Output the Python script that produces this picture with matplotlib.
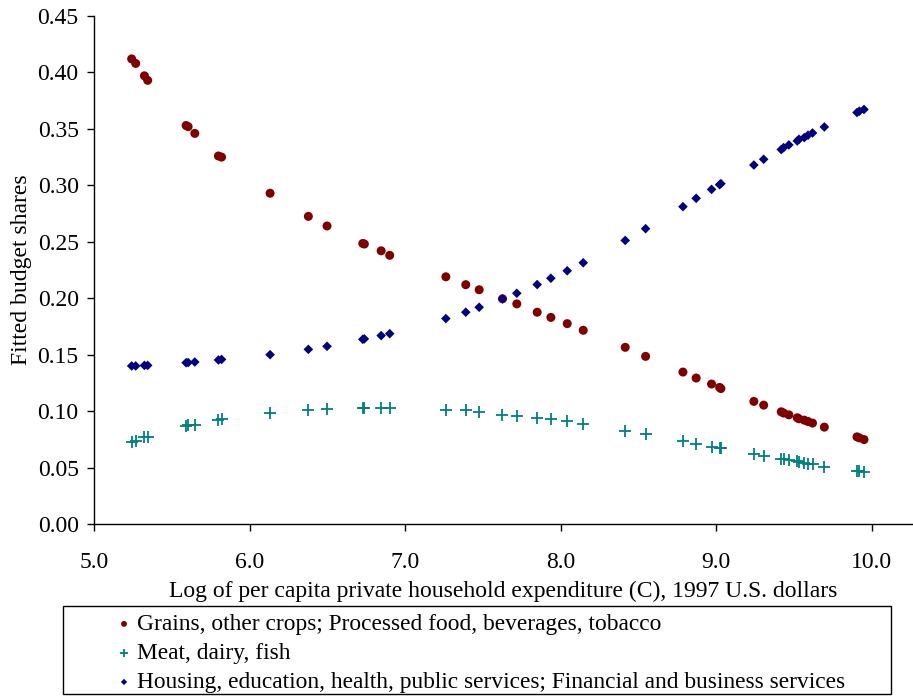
import matplotlib
matplotlib.use("Agg")
import matplotlib.pyplot as plt
from matplotlib.patches import Rectangle

plt.rcParams['font.family'] = ['Liberation Serif', 'DejaVu Serif']

log_expenditure = [5.242, 5.268, 5.324, 5.345, 5.592, 5.605, 5.648, 5.800, 5.820,
                   6.132, 6.378, 6.498, 6.728, 6.738, 6.846, 6.901, 7.262, 7.390,
                   7.476, 7.626, 7.718, 7.849, 7.937, 8.042, 8.145, 8.415, 8.546,
                   8.786, 8.871, 8.970, 9.022, 9.030, 9.242, 9.305, 9.418, 9.433,
                   9.467, 9.521, 9.532, 9.566, 9.590, 9.619, 9.695, 9.905, 9.920,
                   9.950]

grains_food = [0.412, 0.408, 0.397, 0.393, 0.353, 0.352, 0.346, 0.326, 0.325,
               0.293, 0.2725, 0.264, 0.2485, 0.248, 0.242, 0.238, 0.219, 0.212,
               0.2075, 0.1995, 0.195, 0.1876, 0.183, 0.1775, 0.1716, 0.1565, 0.1485,
               0.1346, 0.1293, 0.124, 0.121, 0.120, 0.1086, 0.1053, 0.0994, 0.0983,
               0.0967, 0.0941, 0.0932, 0.092, 0.0908, 0.0894, 0.0858, 0.0772, 0.0763,
               0.0748]

meat_dairy_fish = [0.0728, 0.0735, 0.077, 0.0775, 0.0864, 0.0876, 0.0876, 0.0923, 0.0926,
                   0.0979, 0.1009, 0.1018, 0.1027, 0.1030, 0.1024, 0.1024, 0.1012, 0.1006,
                   0.0991, 0.0967, 0.0959, 0.0938, 0.0929, 0.0908, 0.0888, 0.0825, 0.0796,
                   0.0737, 0.0713, 0.0686, 0.0677, 0.0673, 0.0621, 0.0598, 0.0577, 0.0572,
                   0.0568, 0.0555, 0.0551, 0.0539, 0.0533, 0.0530, 0.0509, 0.0473, 0.0470,
                   0.0464]

housing_services = [0.140, 0.140, 0.1405, 0.1405, 0.1429, 0.1430, 0.1435, 0.1453, 0.1458,
                    0.150, 0.1547, 0.1574, 0.1636, 0.1640, 0.1669, 0.1686, 0.182, 0.1876,
                    0.192, 0.1994, 0.2044, 0.2121, 0.2177, 0.2243, 0.2314, 0.2512, 0.2616,
                    0.2811, 0.2885, 0.2964, 0.3006, 0.3015, 0.318, 0.3231, 0.3317, 0.3334,
                    0.3358, 0.3393, 0.3408, 0.3423, 0.3444, 0.3464, 0.3517, 0.3645, 0.3657,
                    0.3672]

labels = ["Grains, other crops; Processed food, beverages, tobacco",
          "Meat, dairy, fish",
          "Housing, education, health, public services; Financial and business services"]

x_ticks = [5.0, 6.0, 7.0, 8.0, 9.0, 10.0]
y_ticks = [0.00, 0.05, 0.10, 0.15, 0.20, 0.25, 0.30, 0.35, 0.40, 0.45]

FS = 17
LFS = 16.8

fig = plt.figure(figsize=(9.13, 6.96), dpi=100)
ax = fig.add_axes([94/913, 1 - 524/696, (913 - 94)/913, (524 - 16)/696])

ax.scatter(log_expenditure, grains_food, marker='o', s=42, color='#800000',
           edgecolors='none', label=labels[0], zorder=3)
ax.scatter(log_expenditure, meat_dairy_fish, marker='+', s=72, color='#008080',
           linewidths=1.3, label=labels[1], zorder=3)
ax.scatter(log_expenditure, housing_services, marker='D', s=24, color='#000080',
           edgecolors='none', label=labels[2], zorder=3)

ax.set_xlim(5.0, 10.265)
ax.set_ylim(0.0, 0.45)
ax.set_xticks(x_ticks)
ax.set_xticklabels([f"{v:.1f}" for v in x_ticks])
ax.set_yticks(y_ticks)
ax.set_yticklabels([f"{v:.2f}" for v in y_ticks])

for s in ['top', 'right']:
    ax.spines[s].set_visible(False)
for s in ['left', 'bottom']:
    ax.spines[s].set_linewidth(1.0)
    ax.spines[s].set_color('black')

ax.tick_params(axis='both', direction='out', length=5, width=1, labelsize=FS)
ax.tick_params(axis='x', pad=15)
ax.tick_params(axis='y', pad=6)

ax.set_xlabel("Log of per capita private household expenditure (C), 1997 U.S. dollars",
              fontsize=FS, labelpad=6)
ax.set_ylabel("Fitted budget shares", fontsize=FS, labelpad=4)

leg = fig.legend(loc='upper left', bbox_to_anchor=(63/913, 1 - 609/696),
                 fontsize=LFS, frameon=False, handletextpad=-1.85, labelspacing=0.33,
                 borderpad=0.2, handlelength=4.83, markerscale=0.65, borderaxespad=0)

fig.add_artist(Rectangle((63/913, 1 - 694/696), (891 - 63)/913, (694 - 606)/696,
                         transform=fig.transFigure, fill=False, edgecolor='black',
                         linewidth=1.0))

fig.savefig("out.png", dpi=100)
